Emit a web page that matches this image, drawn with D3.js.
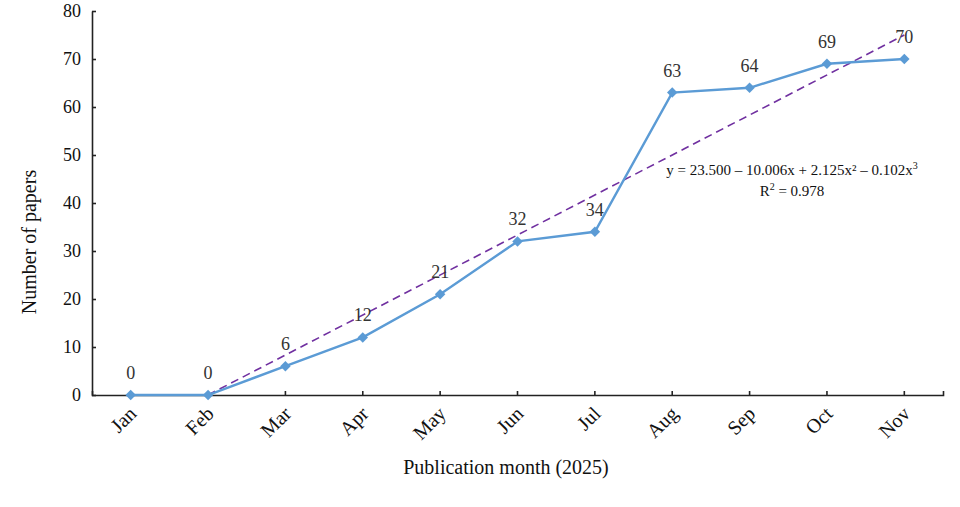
<!DOCTYPE html>
<html>
<head>
<meta charset="utf-8">
<script src="https://cdn.jsdelivr.net/npm/d3@7"></script>
<style>
  body { margin: 0; background: #fff; }
  svg text { font-family: "Liberation Serif", "Times New Roman", serif; }
</style>
</head>
<body>
<div id="chart"></div>
<script>
// data
var months = ["Jan", "Feb", "Mar", "Apr", "May", "Jun", "Jul", "Aug", "Sep", "Oct", "Nov"];
var papers = [0, 0, 6, 12, 21, 32, 34, 63, 64, 69, 70];
var trendMonths = ["Feb", "Nov"];
var trendValues = [0, 75];
var yTicks = [0, 10, 20, 30, 40, 50, 60, 70, 80];
var equationText = "y = 23.500 \u2013 10.006x + 2.125x\u00b2 \u2013 0.102x";
var r2Text = " = 0.978";

var SERIF = "Liberation Serif";
var W = 960, H = 507;
var margin = {top: 11, right: 17, bottom: 112, left: 92},
    width = W - margin.left - margin.right,
    height = H - margin.top - margin.bottom;

var svg = d3.select("#chart").append("svg")
    .attr("width", W)
    .attr("height", H);

var g = svg.append("g")
    .attr("transform", "translate(" + margin.left + "," + margin.top + ")");

var x = d3.scaleBand().domain(months).range([0, width]);
var xc = function(m) { return x(m) + x.bandwidth() / 2; };
var y = d3.scaleLinear().domain([0, 80]).range([height, 0]);

// y axis
var yAxis = g.append("g")
    .call(d3.axisRight(y).tickValues(yTicks).tickSize(4).tickSizeOuter(0));
yAxis.attr("font-family", SERIF);
yAxis.select(".domain").attr("stroke", "#222").attr("stroke-width", 1.6);
yAxis.selectAll(".tick line").attr("stroke", "#222").attr("stroke-width", 1.6);
yAxis.selectAll(".tick text")
    .attr("x", -11)
    .attr("text-anchor", "end")
    .attr("font-size", 18)
    .attr("fill", "#111")
    .attr("font-family", SERIF);

// x axis: ticks inside, at category centres
var xAxis = g.append("g")
    .attr("transform", "translate(0," + height + ")")
    .call(d3.axisTop(x).tickSize(4).tickSizeOuter(4).tickFormat(""));
xAxis.select(".domain").attr("stroke", "#222").attr("stroke-width", 1.6);
xAxis.selectAll(".tick line").attr("stroke", "#222").attr("stroke-width", 1.6);

g.selectAll(".xlab")
    .data(months)
  .enter().append("text")
    .attr("class", "xlab")
    .attr("text-anchor", "end")
    .attr("font-family", SERIF)
    .attr("font-size", 20)
    .attr("fill", "#111")
    .attr("transform", function(d) {
      return "translate(" + (xc(d) + 7) + "," + (height + 20) + ") rotate(-45)";
    })
    .text(function(d) { return d; });

// trend line
var trend = trendMonths.map(function(m, i) { return {m: m, v: trendValues[i]}; });
g.append("path")
    .datum(trend)
    .attr("fill", "none")
    .attr("stroke", "#7030A0")
    .attr("stroke-width", 1.6)
    .attr("stroke-dasharray", "8,5")
    .attr("d", d3.line()
      .x(function(d) { return xc(d.m); })
      .y(function(d) { return y(d.v); }));

// data line
var series = months.map(function(m, i) { return {m: m, v: papers[i]}; });
g.append("path")
    .datum(series)
    .attr("fill", "none")
    .attr("stroke", "#5B9BD5")
    .attr("stroke-width", 2.4)
    .attr("d", d3.line()
      .x(function(d) { return xc(d.m); })
      .y(function(d) { return y(d.v); }));

g.selectAll(".pt")
    .data(series)
  .enter().append("path")
    .attr("class", "pt")
    .attr("fill", "#5B9BD5")
    .attr("d", d3.symbol().type(d3.symbolDiamond2).size(70))
    .attr("transform", function(d) { return "translate(" + xc(d.m) + "," + y(d.v) + ")"; });

g.selectAll(".vlab")
    .data(series)
  .enter().append("text")
    .attr("class", "vlab")
    .attr("text-anchor", "middle")
    .attr("font-family", SERIF)
    .attr("font-size", 18)
    .attr("fill", "#333")
    .attr("x", function(d) { return xc(d.m); })
    .attr("y", function(d) { return y(d.v) - 16; })
    .text(function(d) { return d.v; });

// equation
var eq = g.append("text")
    .attr("text-anchor", "middle")
    .attr("font-family", SERIF)
    .attr("font-size", 15)
    .attr("fill", "#111")
    .attr("x", 792 - margin.left)
    .attr("y", 175 - margin.top);
eq.append("tspan").text(equationText);
eq.append("tspan").attr("font-size", 10).attr("dy", -6).text("3");

var r2 = g.append("text")
    .attr("text-anchor", "middle")
    .attr("font-family", SERIF)
    .attr("font-size", 15)
    .attr("fill", "#111")
    .attr("x", 792 - margin.left)
    .attr("y", 196 - margin.top);
r2.append("tspan").text("R");
r2.append("tspan").attr("font-size", 10).attr("dy", -6).text("2");
r2.append("tspan").attr("dy", 6).text(r2Text);

// axis titles
svg.append("text")
    .attr("text-anchor", "middle")
    .attr("font-family", SERIF)
    .attr("font-size", 20)
    .attr("fill", "#111")
    .attr("x", 506)
    .attr("y", 474)
    .text("Publication month (2025)");

svg.append("text")
    .attr("text-anchor", "middle")
    .attr("font-family", SERIF)
    .attr("font-size", 20)
    .attr("fill", "#111")
    .attr("transform", "translate(36,242) rotate(-90)")
    .text("Number of papers");
</script>
</body>
</html>
